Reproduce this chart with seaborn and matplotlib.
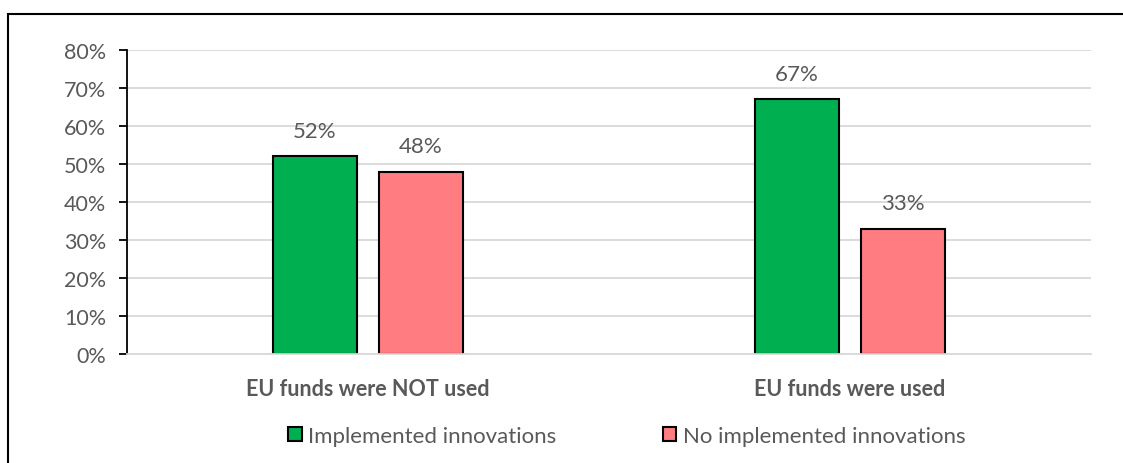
import matplotlib
matplotlib.use("Agg")
import matplotlib.pyplot as plt
import seaborn as sns
import pandas as pd
from matplotlib.patches import Rectangle, Patch
from matplotlib.ticker import FuncFormatter

categories = ["EU funds were NOT used", "EU funds were used"]
series = ["Implemented innovations", "No implemented innovations"]
implemented = [52, 67]
not_implemented = [48, 33]
colors = ["#00B050", "#FF7C80"]

df = pd.DataFrame({
    "cat": categories * 2,
    "series": [series[0]] * 2 + [series[1]] * 2,
    "value": implemented + not_implemented,
})

sns.set_theme(style="white")
plt.rcParams["font.family"] = ["Lato", "DejaVu Sans"]
txt = "#595959"

fig = plt.figure(figsize=(11.23, 4.64), dpi=100)
ax = fig.add_axes([127 / 1123, 1 - 355 / 464, (1091 - 127) / 1123, (355 - 51) / 464])

sns.barplot(data=df, x="cat", y="value", hue="series", palette=colors,
            width=0.44, gap=0.2075, edgecolor="black", linewidth=1.5,
            ax=ax, legend=False, saturation=1)

ax.set_ylim(0, 80)
ax.set_xlim(-0.5, 1.5)
ax.set_yticks(range(0, 81, 10))
ax.yaxis.set_major_formatter(FuncFormatter(lambda v, p: f"{int(v)}%"))
ax.grid(axis="y", color="#D9D9D9", linewidth=1.3)
ax.set_axisbelow(True)
for s in ["top", "right"]:
    ax.spines[s].set_visible(False)
ax.spines["left"].set_color("black")
ax.spines["left"].set_linewidth(1.3)
ax.spines["bottom"].set_color("#D9D9D9")
ax.spines["bottom"].set_linewidth(1.3)
ax.tick_params(axis="y", left=True, length=6, width=1.3, color="black",
               labelsize=15.5, labelcolor=txt, pad=9)
ax.tick_params(axis="x", bottom=False, labelsize=15.5, labelcolor=txt, pad=11)
for lbl in ax.get_xticklabels():
    lbl.set_fontweight("bold")
ax.set_xlabel("")
ax.set_ylabel("")

for c in ax.containers:
    ax.bar_label(c, labels=[f"{int(v)}%" for v in c.datavalues], padding=11,
                 fontsize=16, color=txt)

handles = [Patch(facecolor=colors[i], edgecolor="black", linewidth=1.5, label=series[i])
           for i in range(2)]
fig.legend(handles=handles, loc="center", bbox_to_anchor=(627 / 1123, 1 - 437 / 464),
           ncol=2, frameon=False, fontsize=16, labelcolor=txt, handlelength=0.6,
           handleheight=0.6, handletextpad=0.3, columnspacing=4.8)

fig.patches.append(Rectangle((8 / 1123, -0.1), 1.2, (1 - 15 / 464) + 0.1,
                             transform=fig.transFigure, fill=False,
                             edgecolor="black", linewidth=1.5))

fig.savefig("out.png", dpi=100)
